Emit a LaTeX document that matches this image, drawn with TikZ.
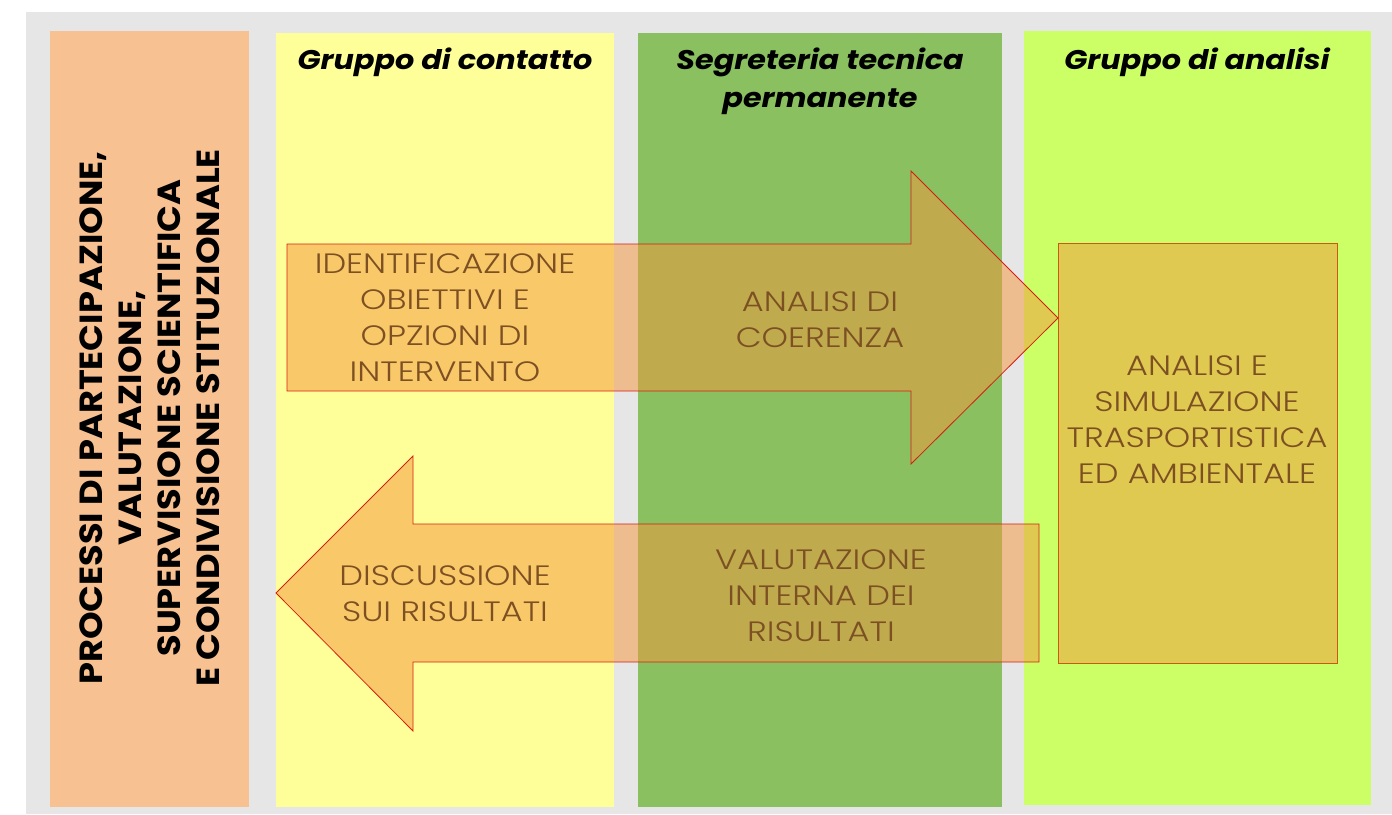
\documentclass[tikz,border=0pt]{standalone}
\usepackage{fontspec}
\setmainfont{Poppins}
\IfFontExistsTF{Poppins Light}{\newfontfamily\lightfont{Poppins Light}[FakeStretch=1.2]}{\newfontfamily\lightfont{Poppins}[FakeStretch=1.2]}
\newfontfamily\hdrfont{Poppins}[FakeStretch=1.12]
\newfontfamily\vertfont{Poppins}[FakeStretch=1.1]
\definecolor{bggray}{HTML}{E6E6E6}
\definecolor{colorange}{HTML}{F8C192}
\definecolor{colyellow}{HTML}{FFFF99}
\definecolor{colgreen}{HTML}{8BC060}
\definecolor{collime}{HTML}{CCFF66}
\definecolor{arrfill}{RGB}{244,149,59}
\definecolor{arrline}{RGB}{215,30,20}
\definecolor{boxline}{RGB}{200,90,20}
\definecolor{txtbrown}{RGB}{125,80,35}
\tikzset{
  bigarrow/.style={fill=arrfill, fill opacity=0.5, draw=arrline, line width=0.8pt, line join=miter},
  lbl/.style={font=\lightfont\fontsize{28}{36}\selectfont, text=txtbrown, align=center, inner sep=0pt},
  hdr/.style={font=\hdrfont\bfseries\itshape\fontsize{27}{38}\selectfont, align=center, inner sep=0pt},
  vert/.style={font=\vertfont\bfseries\fontsize{32}{39}\selectfont, rotate=90, align=center, inner sep=0pt}
}
\begin{document}
\begin{tikzpicture}[x=1pt,y=-1pt]
\useasboundingbox (0,0) rectangle (1392,814);
\fill[white] (0,0) rectangle (1392,814);
\fill[bggray] (26,12) rectangle (1392,814);
% columns
\fill[colorange] (50,31) rectangle (249,807);
\fill[colyellow] (276,33) rectangle (614,807);
\fill[colgreen] (638,33) rectangle (1002,807);
\fill[collime] (1024,31) rectangle (1371,805);
% headers
\node[hdr] (h1) at (445,62) {Gruppo di contatto};
\node[hdr] (h2) at (820,81) {Segreteria tecnica\\permanente};
\node[hdr] (h3) at (1197,62) {Gruppo di analisi};
% vertical text
\node[vert] (v) at (150,418) {PROCESSI DI PARTECIPAZIONE,\\VALUTAZIONE,\\SUPERVISIONE SCIENTIFICA\\E CONDIVISIONE STITUZIONALE};
% analysis box
\filldraw[fill=arrfill, fill opacity=0.5, draw=boxline, line width=0.8pt] (1058,243) rectangle (1337,663);
% right arrow
\draw[bigarrow] (287,244) -- (911,244) -- (911,171) -- (1058,318) -- (911,464) -- (911,391) -- (287,391) -- cycle;
% left arrow
\draw[bigarrow] (1039,524) -- (413,524) -- (413,456) -- (276,593) -- (413,731) -- (413,662) -- (1039,662) -- cycle;
% labels
\node[lbl] (t1) at (445,318) {IDENTIFICAZIONE\\OBIETTIVI E\\OPZIONI DI\\INTERVENTO};
\node[lbl] (t2) at (820,320) {ANALISI DI\\COERENZA};
\node[lbl] (t3) at (1197,420) {ANALISI E\\SIMULAZIONE\\TRASPORTISTICA\\ED AMBIENTALE};
\node[lbl] (t4) at (445,594) {DISCUSSIONE\\SUI RISULTATI};
\node[lbl] (t5) at (821,596) {VALUTAZIONE\\INTERNA DEI\\RISULTATI};
\end{tikzpicture}
\end{document}
